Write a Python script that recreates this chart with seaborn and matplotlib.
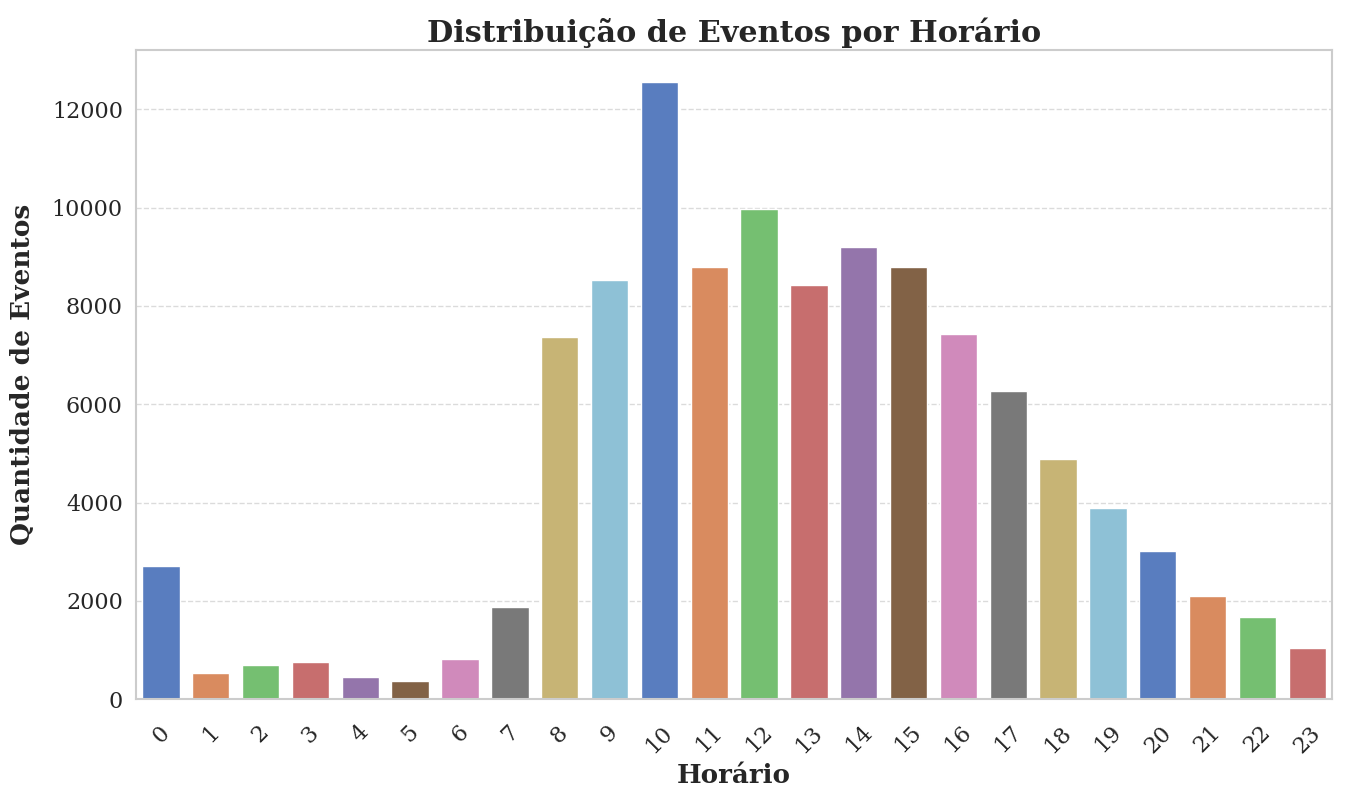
import matplotlib
matplotlib.use("Agg")
import matplotlib.pyplot as plt
import seaborn as sns
import pandas as pd

hours = list(range(24))
counts = [2700, 540, 700, 760, 450, 370, 820, 1880, 7360, 8530, 12560, 8790,
          9970, 8420, 9210, 8790, 7420, 6280, 4880, 3900, 3020, 2100, 1680, 1040]

sns.set_theme(style="whitegrid", palette="muted")
plt.rcParams['font.family'] = ['DejaVu Serif']

df = pd.DataFrame({"Horário": hours, "Quantidade": counts})

fig, ax = plt.subplots(figsize=(13.47, 8), dpi=100)
sns.barplot(data=df, x="Horário", y="Quantidade", hue="Horário",
            palette=sns.color_palette("muted", 10) * 3, legend=False, ax=ax, width=0.75)

ax.set_title("Distribuição de Eventos por Horário", fontsize=21.8, fontweight="bold", pad=6)
ax.set_xlabel("Horário", fontsize=18.8, fontweight="bold", labelpad=4)
ax.set_ylabel("Quantidade de Eventos", fontsize=19, fontweight="bold", labelpad=12)
ax.tick_params(axis="both", labelsize=16)
ax.tick_params(axis="x", pad=10)
plt.setp(ax.get_xticklabels(), rotation=45)
ax.grid(axis="y", linestyle="--", alpha=0.7)
ax.grid(axis="x", visible=False)
ax.set_ylim(0, 13200)
for s in ax.spines.values():
    s.set_color("#cccccc")
    s.set_linewidth(1.5)

fig.subplots_adjust(left=0.101, right=0.989, top=0.937, bottom=0.126)
fig.savefig("out.png", dpi=100)
